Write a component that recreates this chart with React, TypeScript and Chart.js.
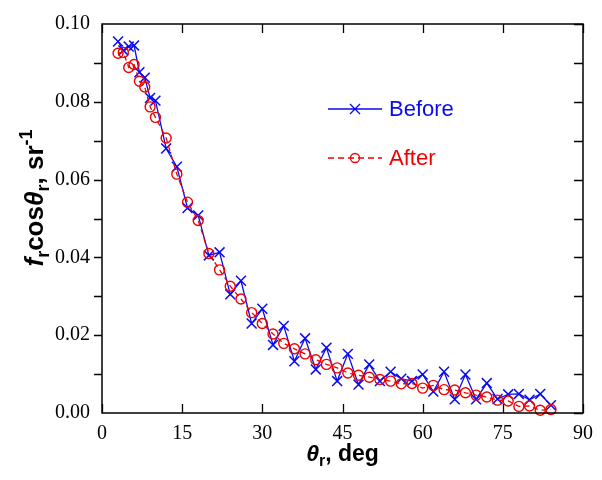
import React, { useEffect, useRef } from 'react';
import { Chart, registerables } from 'chart.js';

Chart.register(...registerables);

// Scattering angle theta_r (deg)
const angles = [3, 4, 5, 6, 7, 8, 9, 10, 12, 14, 16, 18, 20, 22, 24, 26, 28, 30, 32, 34, 36, 38, 40, 42, 44, 46, 48, 50, 52, 54, 56, 58, 60, 62, 64, 66, 68, 70, 72, 74, 76, 78, 80, 82, 84];

// f_r cos(theta_r), sr^-1 — "Before"
const beforeValues = [0.0955, 0.0932, 0.0942, 0.0945, 0.0876, 0.0862, 0.081, 0.0803, 0.068, 0.0633, 0.0527, 0.0508, 0.0405, 0.0413, 0.0305, 0.034, 0.023, 0.0268, 0.0175, 0.0224, 0.0133, 0.0192, 0.0112, 0.0168, 0.0082, 0.0152, 0.0073, 0.0125, 0.0082, 0.0106, 0.0088, 0.0082, 0.0099, 0.0055, 0.0106, 0.0035, 0.0099, 0.0035, 0.0077, 0.0036, 0.0048, 0.0049, 0.0034, 0.0049, 0.002];

// f_r cos(theta_r), sr^-1 — "After"
const afterValues = [0.0925, 0.0927, 0.0888, 0.0896, 0.0853, 0.0838, 0.0787, 0.076, 0.0707, 0.0614, 0.0542, 0.0495, 0.041, 0.0368, 0.0326, 0.0293, 0.0258, 0.023, 0.0203, 0.0179, 0.0165, 0.0152, 0.0137, 0.0125, 0.0116, 0.0103, 0.0097, 0.0092, 0.0086, 0.0082, 0.0075, 0.0076, 0.0064, 0.0071, 0.006, 0.0059, 0.0052, 0.0046, 0.0041, 0.0033, 0.0031, 0.0017, 0.0018, 0.0007, 0.0009];

const xTickValues = [0, 15, 30, 45, 60, 75, 90];
const yTickValues = [0, 0.01, 0.02, 0.03, 0.04, 0.05, 0.06, 0.07, 0.08, 0.09, 0.1];
const yLabelValues = [0, 0.02, 0.04, 0.06, 0.08, 0.1];

const seriesNames = ['Before', 'After'];

const BLUE = '#0a0af0';
const RED = '#f00000';

type Seg = { t: string; font: string; dy: number };

function drawRich(ctx: CanvasRenderingContext2D, segs: Seg[], x: number, y: number) {
  let total = 0;
  const widths: number[] = [];
  for (const s of segs) {
    ctx.font = s.font;
    const w = ctx.measureText(s.t).width;
    widths.push(w);
    total += w;
  }
  let cx = x - total / 2;
  segs.forEach((s, i) => {
    ctx.font = s.font;
    ctx.fillText(s.t, cx, y + s.dy);
    cx += widths[i];
  });
}

const SANS = '"Liberation Sans", Arial, sans-serif';

const decorPlugin = {
  id: 'decor',
  afterDatasetsDraw(chart: any) {
    const { ctx, chartArea } = chart;
    const { left, right, top, bottom } = chartArea;
    const xs = chart.scales.x;
    const ys = chart.scales.y;
    ctx.save();
    // frame
    ctx.strokeStyle = '#000';
    ctx.lineWidth = 1.5;
    ctx.strokeRect(left, top, right - left, bottom - top);
    // ticks
    ctx.lineWidth = 1.3;
    ctx.beginPath();
    for (const v of xTickValues) {
      const px = Math.round(xs.getPixelForValue(v)) + 0.5;
      ctx.moveTo(px, bottom);
      ctx.lineTo(px, bottom - 9);
      ctx.moveTo(px, top);
      ctx.lineTo(px, top + 9);
    }
    for (const v of yTickValues) {
      const py = Math.round(ys.getPixelForValue(v)) + 0.5;
      ctx.moveTo(right, py);
      ctx.lineTo(right - 9, py);
      if (v > 0 && v < 0.1) {
        ctx.moveTo(left, py);
        ctx.lineTo(left - 8, py);
      }
    }
    ctx.stroke();

    // axis titles
    ctx.fillStyle = '#000';
    ctx.textBaseline = 'alphabetic';
    ctx.textAlign = 'left';
    drawRich(ctx, [
      { t: 'θ', font: `italic bold 23px ${SANS}`, dy: 0 },
      { t: 'r', font: `bold 16px ${SANS}`, dy: 5 },
      { t: ', deg', font: `bold 23px ${SANS}`, dy: 0 },
    ], (left + right) / 2, 461);

    const yb = `bold 26px ${SANS}`;
    const ybi = `italic bold 26px ${SANS}`;
    const ys2 = `bold 18px ${SANS}`;
    ctx.save();
    ctx.translate(43, 198);
    ctx.rotate(-Math.PI / 2);
    drawRich(ctx, [
      { t: 'f', font: ybi, dy: 0 },
      { t: 'r', font: ys2, dy: 6 },
      { t: 'cos', font: yb, dy: 0 },
      { t: 'θ', font: ybi, dy: 0 },
      { t: 'r', font: ys2, dy: 6 },
      { t: ', sr', font: yb, dy: 0 },
      { t: '-1', font: ys2, dy: -11 },
    ], 0, 0);
    ctx.restore();

    // legend
    const lx0 = 328, lx1 = 382, lxm = 355, tx = 389;
    const ly1 = 109, ly2 = 158;
    ctx.lineWidth = 1.3;
    ctx.strokeStyle = BLUE;
    ctx.beginPath();
    ctx.moveTo(lx0, ly1);
    ctx.lineTo(lx1, ly1);
    const r = 5;
    ctx.moveTo(lxm - r, ly1 - r);
    ctx.lineTo(lxm + r, ly1 + r);
    ctx.moveTo(lxm - r, ly1 + r);
    ctx.lineTo(lxm + r, ly1 - r);
    ctx.stroke();

    ctx.strokeStyle = RED;
    ctx.setLineDash([6, 4]);
    ctx.beginPath();
    ctx.moveTo(lx0, ly2);
    ctx.lineTo(lx1, ly2);
    ctx.stroke();
    ctx.setLineDash([]);
    ctx.beginPath();
    ctx.arc(lxm, ly2, 4.5, 0, Math.PI * 2);
    ctx.stroke();

    ctx.font = `22px ${SANS}`;
    ctx.textBaseline = 'middle';
    ctx.fillStyle = BLUE;
    ctx.fillText(seriesNames[0], tx, ly1 + 1);
    ctx.fillStyle = RED;
    ctx.fillText(seriesNames[1], tx, ly2 + 1);
    ctx.restore();
  },
};

export default function App() {
  const ref = useRef<HTMLCanvasElement | null>(null);
  useEffect(() => {
    if (!ref.current) return;
    const chart = new Chart(ref.current, {
      type: 'line',
      data: {
        datasets: [
          {
            label: seriesNames[0],
            data: angles.map((a, i) => ({ x: a, y: beforeValues[i] })),
            borderColor: BLUE,
            borderWidth: 1.3,
            pointStyle: 'crossRot',
            pointRadius: 7,
            pointBorderWidth: 1.5,
            pointBorderColor: BLUE,
            pointBackgroundColor: BLUE,
            fill: false,
            tension: 0,
            order: 2,
            clip: 10,
          },
          {
            label: seriesNames[1],
            data: angles.map((a, i) => ({ x: a, y: afterValues[i] })),
            borderColor: RED,
            borderWidth: 1.3,
            borderDash: [5, 4],
            pointStyle: 'circle',
            pointRadius: 5,
            pointBorderWidth: 1.4,
            pointBorderColor: RED,
            pointBackgroundColor: 'rgba(0,0,0,0)',
            fill: false,
            tension: 0,
            order: 1,
            clip: 10,
          },
        ],
      },
      options: {
        responsive: false,
        animation: false,
        layout: { padding: { left: 0, top: 20, right: 13, bottom: 0 } },
        plugins: { legend: { display: false }, tooltip: { enabled: false } },
        scales: {
          x: {
            type: 'linear',
            min: 0,
            max: 90,
            grid: { display: false, drawTicks: false },
            border: { display: false },
            afterBuildTicks: (s: any) => {
              s.ticks = xTickValues.map((v) => ({ value: v }));
            },
            afterFit: (s: any) => {
              s.height = 67;
            },
            ticks: {
              padding: 9,
              color: '#000',
              font: { family: '"Liberation Serif", "Times New Roman", serif', size: 20 },
              maxRotation: 0,
              callback: (v: any) => String(v),
            },
          },
          y: {
            type: 'linear',
            min: 0,
            max: 0.1,
            grid: { display: false, drawTicks: false },
            border: { display: false },
            afterBuildTicks: (s: any) => {
              s.ticks = yTickValues.map((v) => ({ value: v }));
            },
            afterFit: (s: any) => {
              s.width = 102;
            },
            ticks: {
              padding: 12,
              color: '#000',
              font: { family: '"Liberation Serif", "Times New Roman", serif', size: 20 },
              callback: (v: any) => {
                const k = Math.round(Number(v) * 100);
                return yLabelValues.some((l) => Math.round(l * 100) === k) ? (k / 100).toFixed(2) : '';
              },
            },
          },
        },
      },
      plugins: [decorPlugin],
    });
    return () => chart.destroy();
  }, []);
  return (
    <div style={{ position: 'fixed', left: 0, top: 0, width: 602, height: 480, background: '#fff' }}>
      <canvas ref={ref} width={602} height={480} />
    </div>
  );
}
